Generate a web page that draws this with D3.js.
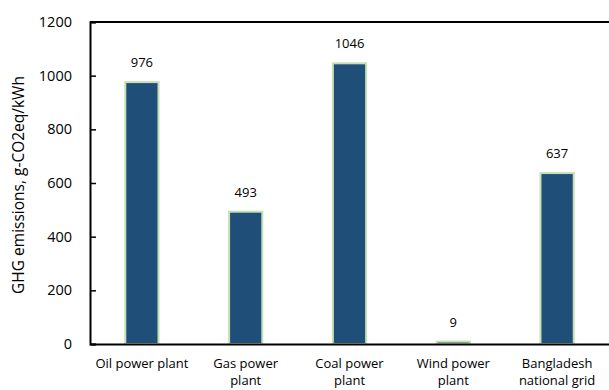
<!DOCTYPE html>
<html>
<head>
<meta charset="utf-8">
<script src="https://cdn.jsdelivr.net/npm/d3@7"></script>
<style>
  html, body { margin: 0; padding: 0; background: #fff; }
  svg { display: block; font-family: "Open Sans", "Noto Sans", sans-serif; }
</style>
</head>
<body>
<svg id="chart" width="609" height="390"></svg>
<script>
// Life-cycle GHG emissions by generation source
const categories = [
  ["Oil power plant"],
  ["Gas power", "plant"],
  ["Coal power", "plant"],
  ["Wind power", "plant"],
  ["Bangladesh", "national grid"]
];
const emissions = [976, 493, 1046, 9, 637];
const yTicks = [0, 200, 400, 600, 800, 1000, 1200];
const yTitle = "GHG emissions, g-CO2eq/kWh";

const svg = d3.select("#chart");
const margin = { top: 22, right: 0, bottom: 46, left: 90 };
const W = 609, H = 390;
const innerW = W - margin.left - margin.right;
const innerH = H - margin.top - margin.bottom;

const g = svg.append("g").attr("transform", `translate(${margin.left},${margin.top})`);

const x = d3.scaleBand()
  .domain(d3.range(categories.length))
  .range([0, innerW])
  .paddingInner(0.68)
  .paddingOuter(0.34);

const y = d3.scaleLinear().domain([0, 1200]).range([innerH, 0]);

// Bars
g.selectAll("rect.bar")
  .data(emissions)
  .join("rect")
  .attr("class", "bar")
  .attr("x", (d, i) => x(i))
  .attr("width", x.bandwidth())
  .attr("y", d => y(d))
  .attr("height", d => innerH - y(d))
  .attr("fill", "#1f4e79")
  .attr("stroke", "#c5e0b4")
  .attr("stroke-width", 2);

// Value labels
g.selectAll("text.val")
  .data(emissions)
  .join("text")
  .attr("class", "val")
  .attr("x", (d, i) => x(i) + x.bandwidth() / 2)
  .attr("y", d => y(d) - 15)
  .attr("text-anchor", "middle")
  .attr("font-size", 13)
  .attr("fill", "#000")
  .text(d => d);

// Top frame line
g.append("line")
  .attr("x1", 0).attr("x2", innerW)
  .attr("y1", 0).attr("y2", 0)
  .attr("stroke", "#000").attr("stroke-width", 2);

// Y axis with inward ticks
const yAxis = g.append("g")
  .call(d3.axisLeft(y).tickValues(yTicks).tickSize(-6).tickPadding(18).tickFormat(d3.format("d")));
yAxis.select(".domain").attr("stroke", "#000").attr("stroke-width", 2);
yAxis.selectAll(".tick line").attr("stroke", "#000").attr("stroke-width", 1.5);
yAxis.selectAll(".tick text")
  .attr("font-size", 14.5)
  .attr("fill", "#000")
  .attr("font-family", "'Open Sans', 'Noto Sans', sans-serif");

// X axis (baseline only)
const xAxis = g.append("g")
  .attr("transform", `translate(0,${innerH})`)
  .call(d3.axisBottom(x).tickSize(0).tickFormat(""));
xAxis.select(".domain").attr("stroke", "#000").attr("stroke-width", 2);

// Category labels (two lines where wrapped)
const labels = g.selectAll("text.cat")
  .data(categories)
  .join("text")
  .attr("class", "cat")
  .attr("text-anchor", "middle")
  .attr("font-size", 13)
  .attr("fill", "#000")
  .attr("transform", (d, i) => `translate(${x(i) + x.bandwidth() / 2},${innerH + 24})`);
labels.selectAll("tspan")
  .data(d => d)
  .join("tspan")
  .attr("x", 0)
  .attr("dy", (d, i) => i === 0 ? 0 : 16.5)
  .text(d => d);

// Y axis title
svg.append("text")
  .attr("transform", `translate(24,${margin.top + innerH / 2 + 2}) rotate(-90)`)
  .attr("text-anchor", "middle")
  .attr("font-size", 15.5)
  .attr("fill", "#000")
  .text(yTitle);
</script>
</body>
</html>
